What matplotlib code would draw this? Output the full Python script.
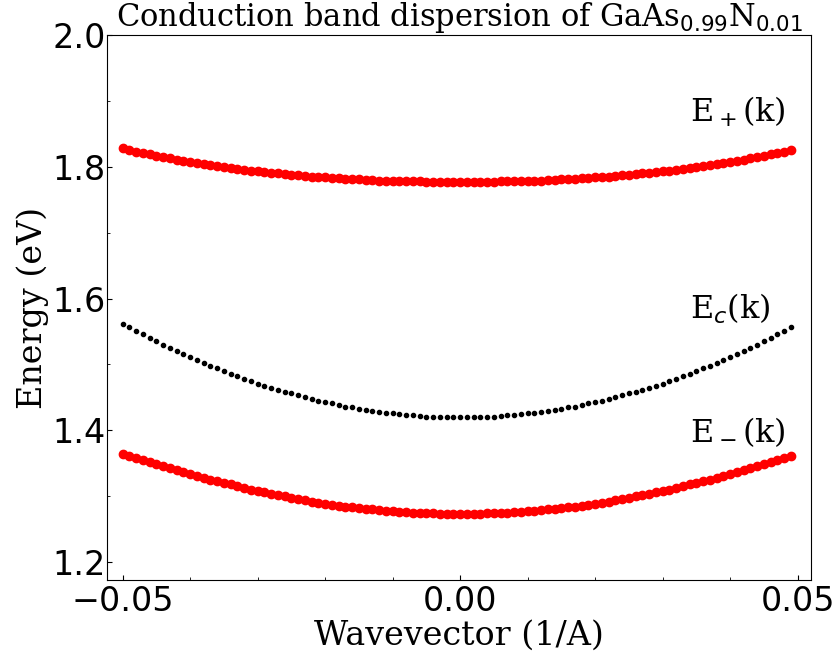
import numpy as np
import matplotlib
matplotlib.use("Agg")
import matplotlib.pyplot as plt
from matplotlib.ticker import MultipleLocator

# wavevector grid, in units of 1e-3 1/A
k_milli = [-50, -49, -48, -47, -46, -45, -44, -43, -42, -41,
           -40, -39, -38, -37, -36, -35, -34, -33, -32, -31,
           -30, -29, -28, -27, -26, -25, -24, -23, -22, -21,
           -20, -19, -18, -17, -16, -15, -14, -13, -12, -11,
           -10, -9, -8, -7, -6, -5, -4, -3, -2, -1,
           0, 1, 2, 3, 4, 5, 6, 7, 8, 9,
           10, 11, 12, 13, 14, 15, 16, 17, 18, 19,
           20, 21, 22, 23, 24, 25, 26, 27, 28, 29,
           30, 31, 32, 33, 34, 35, 36, 37, 38, 39,
           40, 41, 42, 43, 44, 45, 46, 47, 48, 49]

# host conduction band E_c(k), eV
e_c = [1.562, 1.557, 1.551, 1.546, 1.540, 1.535, 1.530, 1.525, 1.520, 1.516,
       1.511, 1.507, 1.502, 1.498, 1.494, 1.490, 1.486, 1.482, 1.478, 1.475,
       1.471, 1.468, 1.465, 1.461, 1.458, 1.456, 1.453, 1.450, 1.448, 1.445,
       1.443, 1.441, 1.438, 1.436, 1.435, 1.433, 1.431, 1.430, 1.428, 1.427,
       1.426, 1.425, 1.424, 1.423, 1.422, 1.421, 1.421, 1.421, 1.420, 1.420,
       1.420, 1.420, 1.420, 1.421, 1.421, 1.421, 1.422, 1.423, 1.424, 1.425,
       1.426, 1.427, 1.428, 1.430, 1.431, 1.433, 1.435, 1.436, 1.438, 1.441,
       1.443, 1.445, 1.448, 1.450, 1.453, 1.456, 1.458, 1.461, 1.465, 1.468,
       1.471, 1.475, 1.478, 1.482, 1.486, 1.490, 1.494, 1.498, 1.502, 1.507,
       1.511, 1.516, 1.520, 1.525, 1.530, 1.535, 1.540, 1.546, 1.551, 1.557]

# upper BAC subband E+(k), eV
e_plus = [1.828, 1.825, 1.823, 1.821, 1.819, 1.817, 1.815, 1.813, 1.811, 1.809,
          1.807, 1.806, 1.804, 1.802, 1.801, 1.799, 1.798, 1.797, 1.795, 1.794,
          1.793, 1.792, 1.791, 1.790, 1.789, 1.788, 1.787, 1.786, 1.785, 1.785,
          1.784, 1.783, 1.783, 1.782, 1.781, 1.781, 1.780, 1.780, 1.779, 1.779,
          1.779, 1.778, 1.778, 1.778, 1.778, 1.777, 1.777, 1.777, 1.777, 1.777,
          1.777, 1.777, 1.777, 1.777, 1.777, 1.777, 1.778, 1.778, 1.778, 1.778,
          1.779, 1.779, 1.779, 1.780, 1.780, 1.781, 1.781, 1.782, 1.783, 1.783,
          1.784, 1.785, 1.785, 1.786, 1.787, 1.788, 1.789, 1.790, 1.791, 1.792,
          1.793, 1.794, 1.795, 1.797, 1.798, 1.799, 1.801, 1.802, 1.804, 1.806,
          1.807, 1.809, 1.811, 1.813, 1.815, 1.817, 1.819, 1.821, 1.823, 1.825]

# lower BAC subband E-(k), eV
e_minus = [1.364, 1.361, 1.358, 1.355, 1.352, 1.349, 1.346, 1.343, 1.340, 1.337,
           1.334, 1.331, 1.328, 1.325, 1.323, 1.320, 1.318, 1.315, 1.313, 1.310,
           1.308, 1.306, 1.304, 1.302, 1.300, 1.298, 1.296, 1.294, 1.292, 1.290,
           1.289, 1.287, 1.286, 1.284, 1.283, 1.282, 1.281, 1.280, 1.279, 1.278,
           1.277, 1.276, 1.276, 1.275, 1.274, 1.274, 1.274, 1.273, 1.273, 1.273,
           1.273, 1.273, 1.273, 1.273, 1.274, 1.274, 1.274, 1.275, 1.276, 1.276,
           1.277, 1.278, 1.279, 1.280, 1.281, 1.282, 1.283, 1.284, 1.286, 1.287,
           1.289, 1.290, 1.292, 1.294, 1.296, 1.298, 1.300, 1.302, 1.304, 1.306,
           1.308, 1.310, 1.313, 1.315, 1.318, 1.320, 1.323, 1.325, 1.328, 1.331,
           1.334, 1.337, 1.340, 1.343, 1.346, 1.349, 1.352, 1.355, 1.358, 1.361]

k = np.array(k_milli) / 1000.0

plt.rcParams['font.family'] = 'serif'
plt.rcParams['font.serif'] = ['DejaVu Serif']

fig = plt.figure(figsize=(8.38, 6.59), dpi=100)
ax = fig.add_axes([0.1277, 0.1199, 0.8401, 0.827])

ax.plot(k, e_plus, 'ro')
ax.plot(k, e_c, 'k.')
ax.plot(k, e_minus, 'ro')

ax.text(0.034, 1.869, 'E$_+$(k)', fontsize=23)
ax.text(0.034, 1.570, 'E$_c$(k)', fontsize=23)
ax.text(0.034, 1.382, 'E$_-$(k)', fontsize=23)

ax.set_xlim(-0.0523, 0.052)
ax.set_ylim(1.173, 2.0)
ax.xaxis.set_major_locator(MultipleLocator(0.05))
ax.xaxis.set_minor_locator(MultipleLocator(0.01))
ax.yaxis.set_major_locator(MultipleLocator(0.2))
ax.yaxis.set_minor_locator(MultipleLocator(0.1))
ax.tick_params(which='both', direction='in')
ax.tick_params(axis='y', pad=1)
for lab in ax.get_xticklabels() + ax.get_yticklabels():
    lab.set_family('DejaVu Sans')
    lab.set_fontsize(24)

ax.set_xlabel('Wavevector (1/A)', fontsize=24, labelpad=1)
ax.set_ylabel('Energy (eV)', fontsize=24, labelpad=2)
ax.set_title('Conduction band dispersion of GaAs$_{0.99}$N$_{0.01}$', fontsize=22)

fig.savefig('out.png', dpi=100)
